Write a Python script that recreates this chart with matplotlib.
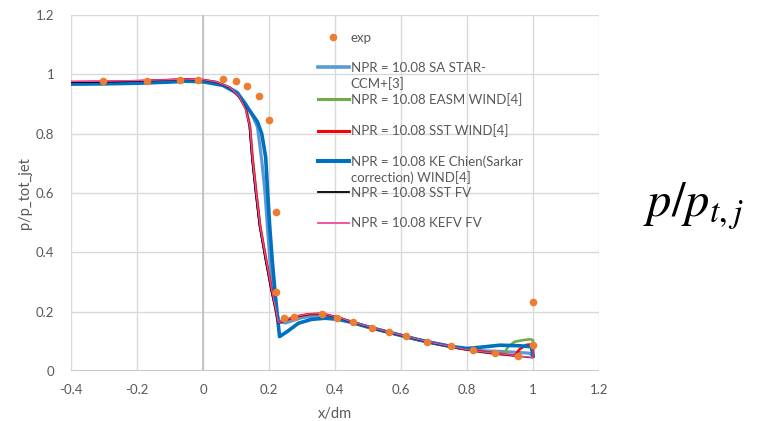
import matplotlib
matplotlib.use("Agg")
import matplotlib.pyplot as plt
from matplotlib.lines import Line2D

plt.rcParams['font.family'] = ['Lato', 'DejaVu Sans']
plt.rcParams['mathtext.fontset'] = 'stix'

# ---- experimental data ----
exp_x = [-0.304, -0.171, -0.07, -0.016, 0.06, 0.10, 0.132, 0.169, 0.201, 0.221, 0.221,
         0.245, 0.276, 0.361, 0.407, 0.455, 0.512, 0.565, 0.615, 0.68, 0.751, 0.817,
         0.884, 0.955, 0.999, 0.999]
exp_y = [0.977, 0.977, 0.982, 0.982, 0.985, 0.977, 0.96, 0.928, 0.847, 0.536, 0.266,
         0.178, 0.181, 0.193, 0.18, 0.164, 0.146, 0.131, 0.117, 0.099, 0.083, 0.07,
         0.061, 0.05, 0.088, 0.233]

# ---- computed profiles ----
sa_x = [-0.4, -0.3, -0.2, -0.1, -0.05, 0.0, 0.04, 0.08, 0.104, 0.13, 0.15, 0.165, 0.178,
        0.188, 0.195, 0.203, 0.212, 0.222, 0.232, 0.25, 0.30, 0.36, 0.41, 0.45, 0.50, 0.55,
        0.60, 0.65, 0.70, 0.75, 0.80, 0.85, 0.90, 0.95, 0.99, 1.0]
sa_y = [0.972, 0.973, 0.975, 0.979, 0.981, 0.979, 0.972, 0.955, 0.94, 0.90, 0.86, 0.823,
        0.71, 0.60, 0.49, 0.37, 0.27, 0.20, 0.165, 0.162, 0.18, 0.188, 0.178, 0.165, 0.149,
        0.134, 0.12, 0.106, 0.094, 0.083, 0.074, 0.068, 0.066, 0.063, 0.06, 0.05]

easm_x = [-0.4, -0.3, -0.2, -0.1, -0.05, 0.0, 0.04, 0.08, 0.11, 0.13, 0.142, 0.15, 0.161,
          0.173, 0.191, 0.208, 0.22, 0.228, 0.25, 0.28, 0.32, 0.36, 0.41, 0.45, 0.50, 0.55,
          0.60, 0.65, 0.70, 0.75, 0.80, 0.85, 0.91, 0.925, 0.945, 0.97, 0.991, 1.0, 1.0]
easm_y = [0.972, 0.973, 0.976, 0.98, 0.982, 0.98, 0.973, 0.955, 0.925, 0.885, 0.826, 0.72,
          0.605, 0.49, 0.376, 0.275, 0.21, 0.163, 0.172, 0.183, 0.191, 0.193, 0.18, 0.166,
          0.15, 0.135, 0.121, 0.107, 0.094, 0.082, 0.072, 0.063, 0.056, 0.082, 0.099, 0.104,
          0.107, 0.104, 0.05]

sst_x = [-0.4, -0.3, -0.2, -0.1, -0.05, 0.0, 0.04, 0.08, 0.11, 0.13, 0.142, 0.15, 0.161,
         0.173, 0.191, 0.208, 0.22, 0.228, 0.25, 0.28, 0.32, 0.36, 0.41, 0.45, 0.50, 0.55,
         0.60, 0.65, 0.70, 0.78, 0.88, 0.945, 0.96, 0.98, 1.0, 1.0]
sst_y = [0.974, 0.975, 0.977, 0.981, 0.983, 0.981, 0.974, 0.956, 0.925, 0.885, 0.824, 0.715,
         0.602, 0.488, 0.375, 0.274, 0.21, 0.162, 0.171, 0.183, 0.191, 0.193, 0.18, 0.165,
         0.149, 0.134, 0.12, 0.106, 0.093, 0.076, 0.06, 0.052, 0.074, 0.088, 0.09, 0.05]

ke_x = [-0.4, -0.3, -0.2, -0.1, -0.05, 0.0, 0.06, 0.104, 0.14, 0.165, 0.178, 0.19, 0.196,
        0.202, 0.21, 0.218, 0.225, 0.232, 0.254, 0.289, 0.329, 0.37, 0.41, 0.45, 0.50, 0.55,
        0.60, 0.65, 0.70, 0.75, 0.80, 0.84, 0.90, 0.96, 0.995, 1.0]
ke_y = [0.967, 0.968, 0.97, 0.974, 0.977, 0.975, 0.963, 0.936, 0.88, 0.84, 0.80, 0.72, 0.60,
        0.49, 0.37, 0.27, 0.19, 0.116, 0.132, 0.161, 0.174, 0.178, 0.174, 0.164, 0.148, 0.134,
        0.12, 0.106, 0.094, 0.083, 0.076, 0.08, 0.087, 0.085, 0.082, 0.05]

sstfv_x = [-0.4, -0.3, -0.2, -0.1, -0.05, 0.0, 0.04, 0.08, 0.11, 0.13, 0.14, 0.148, 0.159,
           0.171, 0.189, 0.206, 0.219, 0.227, 0.25, 0.28, 0.32, 0.36, 0.41, 0.45, 0.50, 0.55,
           0.60, 0.65, 0.70, 0.75, 0.80, 0.85, 0.90, 0.94, 0.97, 0.995, 1.0, 1.0]
sstfv_y = [0.973, 0.974, 0.977, 0.981, 0.983, 0.981, 0.974, 0.956, 0.924, 0.884, 0.83, 0.715,
           0.6, 0.487, 0.374, 0.273, 0.21, 0.161, 0.171, 0.183, 0.191, 0.193, 0.18, 0.165,
           0.149, 0.134, 0.12, 0.106, 0.093, 0.082, 0.071, 0.063, 0.057, 0.052, 0.048, 0.045,
           0.045, 0.085]

kefv_x = [-0.4, -0.3, -0.2, -0.1, -0.05, 0.0, 0.04, 0.08, 0.11, 0.13, 0.142, 0.15, 0.161,
          0.173, 0.191, 0.208, 0.22, 0.228, 0.25, 0.28, 0.32, 0.36, 0.41, 0.45, 0.50, 0.55,
          0.60, 0.65, 0.70, 0.75, 0.80, 0.85, 0.90, 0.94, 0.97, 0.995, 1.0, 1.0]
kefv_y = [0.976, 0.977, 0.979, 0.982, 0.984, 0.982, 0.975, 0.957, 0.925, 0.88, 0.823, 0.711,
          0.599, 0.486, 0.374, 0.273, 0.21, 0.162, 0.172, 0.184, 0.192, 0.194, 0.181, 0.166,
          0.15, 0.135, 0.121, 0.107, 0.094, 0.083, 0.072, 0.064, 0.058, 0.053, 0.049, 0.046,
          0.046, 0.086]

labels = ["NPR = 10.08 SA STAR-", "NPR = 10.08 EASM WIND[4]", "NPR = 10.08 SST WIND[4]",
          "NPR = 10.08 KE Chien(Sarkar", "NPR = 10.08 SST FV", "NPR = 10.08 KEFV FV"]
wrap = {"NPR = 10.08 SA STAR-": "CCM+[3]",
        "NPR = 10.08 KE Chien(Sarkar": "correction) WIND[4]"}

x_ticks = [-0.4, -0.2, 0, 0.2, 0.4, 0.6, 0.8, 1, 1.2]
x_tick_labels = ["-0.4", "-0.2", "0", "0.2", "0.4", "0.6", "0.8", "1", "1.2"]
y_ticks = [0, 0.2, 0.4, 0.6, 0.8, 1, 1.2]
y_tick_labels = ["0", "0.2", "0.4", "0.6", "0.8", "1", "1.2"]

text_grey = "#595959"
grid_grey = "#D9D9D9"

fig = plt.figure(figsize=(7.6, 4.21), dpi=100)
ax = fig.add_axes([71 / 760, 1 - 371 / 421, (599 - 71) / 760, (371 - 15) / 421])

ax.set_xlim(-0.4, 1.2)
ax.set_ylim(0, 1.2)
ax.set_xticks(x_ticks, x_tick_labels)
ax.set_yticks(y_ticks, y_tick_labels)
ax.grid(True, color=grid_grey, linewidth=1.0)
ax.set_axisbelow(True)
for s in ax.spines.values():
    s.set_visible(False)
ax.tick_params(length=0, colors=text_grey, labelsize=9.5)
ax.tick_params(axis='y', pad=12)
ax.tick_params(axis='x', pad=9)
ax.axhline(0, color="#BFBFBF", linewidth=1.2, zorder=1)
ax.axvline(0, color="#BFBFBF", linewidth=1.2, zorder=1)

l_sa, = ax.plot(sa_x, sa_y, color="#5B9BD5", lw=2.3, zorder=2)
l_easm, = ax.plot(easm_x, easm_y, color="#70AD47", lw=1.9, zorder=3)
l_sst, = ax.plot(sst_x, sst_y, color="#FF0000", lw=1.9, zorder=4)
l_ke, = ax.plot(ke_x, ke_y, color="#0070C0", lw=2.6, zorder=5)
l_sstfv, = ax.plot(sstfv_x, sstfv_y, color="black", lw=1.0, zorder=6)
l_kefv, = ax.plot(kefv_x, kefv_y, color="#F0489C", lw=1.0, zorder=7)
p_exp, = ax.plot(exp_x, exp_y, 'o', color="#ED7D31", ms=5.5, mec="none", zorder=8)

ax.set_xlabel("x/dm", color=text_grey, fontsize=10.5, labelpad=8)
ax.set_ylabel("p/p_tot_jet", color=text_grey, fontsize=10.5, labelpad=3)

# legend rows on a fixed pitch; blank rows give the wider gaps between entries
blank = Line2D([], [], linestyle='none')
handles, texts = [p_exp, blank], ["exp", " "]
for line, lab in zip([l_sa, l_easm, l_sst, l_ke, l_sstfv, l_kefv], labels):
    handles.append(Line2D([], [], color=line.get_color(), lw=line.get_linewidth() + 0.3))
    texts.append(lab)
    handles.append(blank)
    texts.append(wrap.get(lab, " "))
handles, texts = handles[:-1], texts[:-1]

leg = ax.legend(handles, texts, loc='upper left', bbox_to_anchor=(0.467, 0.953),
                frameon=False, fontsize=9.5, labelspacing=0.235, handlelength=2.4,
                handletextpad=0.1, borderpad=0, borderaxespad=0, labelcolor=text_grey)

fig.text(0.912, 0.51, r"$p/p_{t,j}$", fontsize=35, ha='center', va='center', color='black')

fig.savefig("out.png", dpi=100, facecolor="white")
